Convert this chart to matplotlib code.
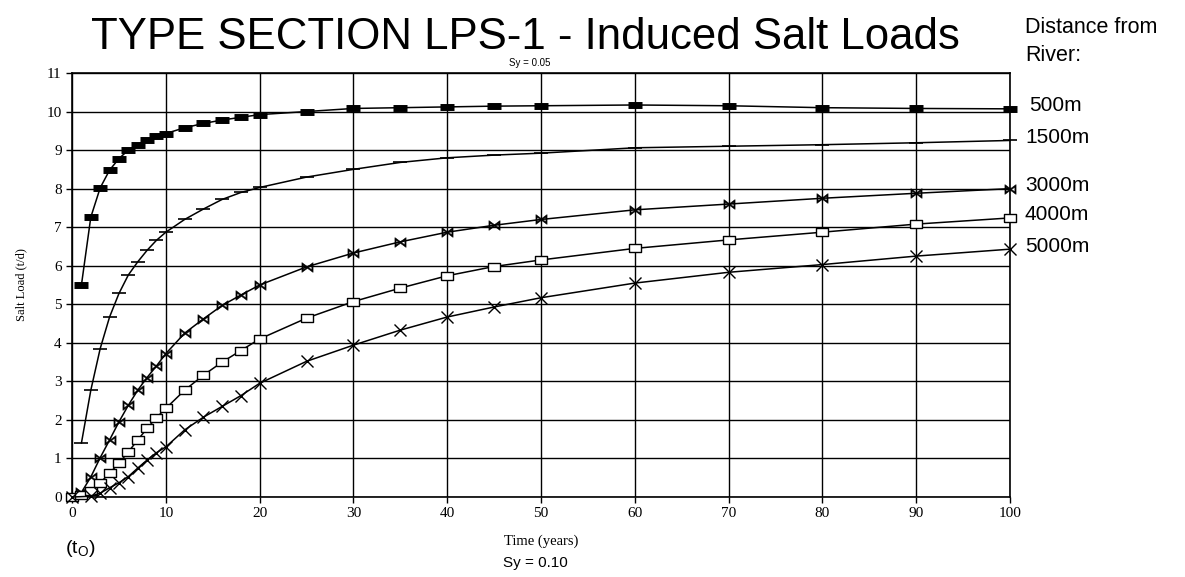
import numpy as np
import matplotlib
matplotlib.use('Agg')
import matplotlib.pyplot as plt
from matplotlib.transforms import blended_transform_factory

# time (years) and induced salt loads (t/d)
t_500 = [1, 2, 3, 4, 5, 6, 7, 8, 9, 10, 12, 14, 16, 18, 20, 25, 30, 35, 40, 45, 50, 60, 70, 80, 90, 100]
load_500 = [5.5, 7.26, 8.02, 8.48, 8.78, 9.0, 9.14, 9.27, 9.36, 9.43, 9.58, 9.69, 9.78, 9.85, 9.92,
            10.0, 10.08, 10.1, 10.12, 10.14, 10.15, 10.17, 10.15, 10.1, 10.08, 10.07]

t_1500 = [1, 2, 3, 4, 5, 6, 7, 8, 9, 10, 12, 14, 16, 18, 20, 25, 30, 35, 40, 45, 50, 60, 70, 80, 90, 100]
load_1500 = [1.4, 2.77, 3.85, 4.67, 5.28, 5.76, 6.1, 6.4, 6.66, 6.87, 7.2, 7.47, 7.72, 7.9, 8.03,
             8.3, 8.5, 8.68, 8.8, 8.87, 8.92, 9.06, 9.1, 9.14, 9.19, 9.25]

t_3000 = [0, 1, 2, 3, 4, 5, 6, 7, 8, 9, 10, 12, 14, 16, 18, 20, 25, 30, 35, 40, 45, 50, 60, 70, 80, 90, 100]
load_3000 = [0.0, 0.12, 0.52, 1.02, 1.48, 1.95, 2.38, 2.77, 3.1, 3.4, 3.72, 4.25, 4.62, 4.97, 5.24, 5.5,
             5.97, 6.33, 6.62, 6.87, 7.05, 7.2, 7.45, 7.6, 7.75, 7.88, 8.0]

t_4000 = [0, 1, 2, 3, 4, 5, 6, 7, 8, 9, 10, 12, 14, 16, 18, 20, 25, 30, 35, 40, 45, 50, 60, 70, 80, 90, 100]
load_4000 = [0.0, 0.05, 0.16, 0.37, 0.62, 0.88, 1.17, 1.48, 1.78, 2.06, 2.3, 2.77, 3.16, 3.5, 3.8, 4.1,
             4.64, 5.07, 5.42, 5.74, 5.98, 6.15, 6.45, 6.67, 6.87, 7.08, 7.24]

t_5000 = [0, 2, 3, 4, 5, 6, 7, 8, 9, 10, 12, 14, 16, 18, 20, 25, 30, 35, 40, 45, 50, 60, 70, 80, 90, 100]
load_5000 = [0.0, 0.02, 0.1, 0.24, 0.37, 0.53, 0.75, 0.96, 1.15, 1.3, 1.74, 2.07, 2.35, 2.63, 2.95,
             3.52, 3.94, 4.33, 4.67, 4.93, 5.17, 5.55, 5.83, 6.03, 6.25, 6.43]

labels = ['500m', '1500m', '3000m', '4000m', '5000m']
x_ticks = list(range(0, 101, 10))
y_ticks = list(range(0, 12))

serif = ['Liberation Serif', 'DejaVu Serif']
sans = ['Liberation Sans', 'DejaVu Sans']

fig = plt.figure(figsize=(11.85, 5.77), dpi=100)
ax = fig.add_axes([0.0608, 0.1386, 0.7915, 0.7349])

box = [(-1.6, -1), (1.6, -1), (1.6, 1), (-1.6, 1), (-1.6, -1)]
styles = [
    dict(marker='_', ms=10, mew=5),
    dict(marker='_', ms=10, mew=1.2),
    dict(marker='$\\bowtie$', ms=8, mew=0.4),
    dict(marker=box, ms=9, mew=1.0, mfc='white'),
    dict(marker='x', ms=8, mew=1.0),
]
series = [(t_500, load_500), (t_1500, load_1500), (t_3000, load_3000),
          (t_4000, load_4000), (t_5000, load_5000)]
for (t, v), st in zip(series, styles):
    ax.plot(t, v, color='black', lw=1.1, mec='black', clip_on=False, zorder=3, **st)

ax.set_xlim(0, 100)
ax.set_ylim(0, 11)
ax.set_xticks(x_ticks)
ax.set_yticks(y_ticks)
ax.grid(True, color='black', lw=1.0)
ax.set_axisbelow(True)
for s in ax.spines.values():
    s.set_color('black')
    s.set_linewidth(1.2)
ax.tick_params(direction='out', length=4, width=1, colors='black', labelsize=11)
for lab in ax.get_xticklabels() + ax.get_yticklabels():
    lab.set_family(serif)

ax.set_ylabel('Salt Load (t/d)', family=serif, fontsize=9, labelpad=14)
ax.set_xlabel('Time (years)', family=serif, fontsize=10.5, labelpad=10)

# right hand labels
tr = blended_transform_factory(ax.transAxes, ax.transData)
for lab, (t, v) in zip(labels, series):
    dx = 1.02 if lab == '500m' else 1.016
    ax.text(dx, v[-1] + 0.08, lab, transform=tr, family=sans, fontsize=15,
            va='center', ha='left', clip_on=False)
fig.text(0.865, 0.97, 'Distance from', family=sans, fontsize=15.5, va='top')
fig.text(0.865, 0.922, 'River:', family=sans, fontsize=15.5, va='top')

fig.text(0.443, 0.935, 'TYPE SECTION LPS-1 - Induced Salt Loads', family=sans,
         fontsize=31.5, ha='center', va='center')
fig.text(0.447, 0.89, 'Sy = 0.05', family=sans, fontsize=7, ha='center', va='center')
fig.text(0.452, 0.025, 'Sy = 0.10', family=sans, fontsize=11, ha='center', va='center')
fig.text(0.055, 0.05, '(t$_\\mathregular{O}$)', family=sans, fontsize=14, ha='left', va='center')

fig.savefig('out.png', dpi=100, facecolor='white')
